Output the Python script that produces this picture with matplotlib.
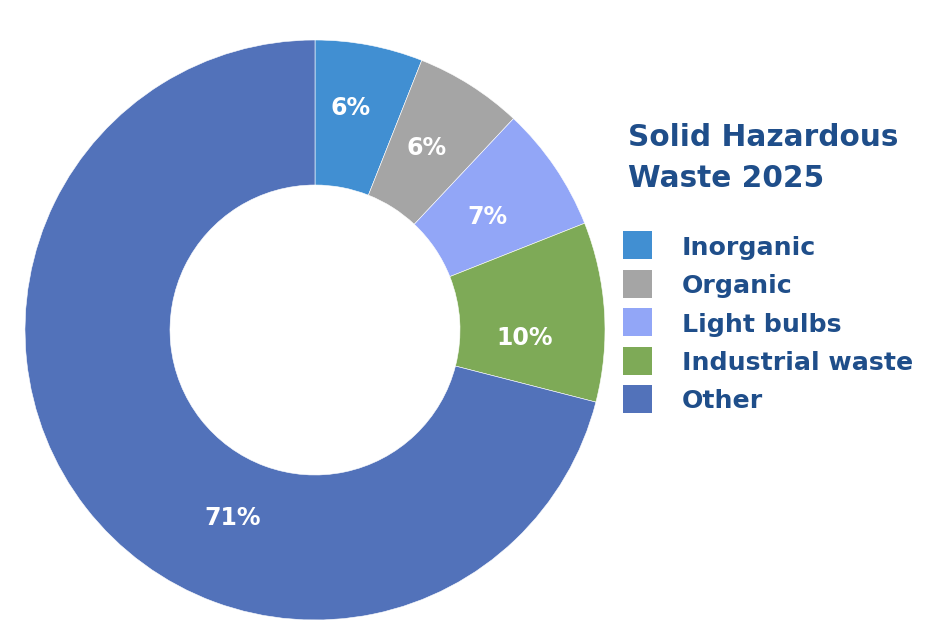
import matplotlib
matplotlib.use("Agg")
import matplotlib.pyplot as plt
from matplotlib.patches import Rectangle

categories = ["Inorganic", "Organic", "Light bulbs", "Industrial waste", "Other"]
values = [6, 6, 7, 10, 71]
colors = ["#418FD2", "#A5A5A5", "#92A6F7", "#7EAA57", "#5272BA"]
title_lines = ["Solid Hazardous", "Waste 2025"]
# label anchor points (fraction of outer radius) as placed in the reference
label_pos = [(0.124, 0.764), (0.384, 0.626), (0.593, 0.390),
             (0.724, -0.028), (-0.283, -0.648)]

FONT = ["DejaVu Sans"]
TXT = "#1F4E8A"

fig = plt.figure(figsize=(9.42, 6.32), dpi=100)
ax = fig.add_axes([25/942, 12/632, 580/942, 580/632])
wedges, texts, autotexts = ax.pie(
    values, colors=colors, startangle=90, counterclock=False,
    radius=1.0, wedgeprops=dict(width=0.5, edgecolor="white", linewidth=0.4),
    autopct=lambda p: f"{p:.0f}%", pctdistance=0.74,
    textprops=dict(color="white", fontsize=17, fontweight="bold", family=FONT))
for t, pos in zip(autotexts, label_pos):
    t.set_position(pos)
ax.set_xlim(-1, 1)
ax.set_ylim(-1, 1)
ax.set_aspect("equal")
ax.axis("off")

fig.text(628/942, 1 - 134/632, title_lines[0], fontsize=21.3, fontweight="bold",
         color=TXT, family=FONT, va="center_baseline", ha="left")
fig.text(628/942, 1 - 176/632, title_lines[1], fontsize=21.3, fontweight="bold",
         color=TXT, family=FONT, va="center_baseline", ha="left")

y0 = 245
step = 38.5
for i, (cat, col) in enumerate(zip(categories, colors)):
    yc = y0 + i * step
    fig.patches.append(Rectangle((623/942, 1 - (yc + 14)/632), 29/942, 28/632,
                                 transform=fig.transFigure, facecolor=col,
                                 edgecolor="none"))
    fig.text(682/942, 1 - yc/632, cat, fontsize=18.2, fontweight="bold",
             color=TXT, family=FONT, va="center_baseline", ha="left")

fig.savefig("out.png", dpi=100)
